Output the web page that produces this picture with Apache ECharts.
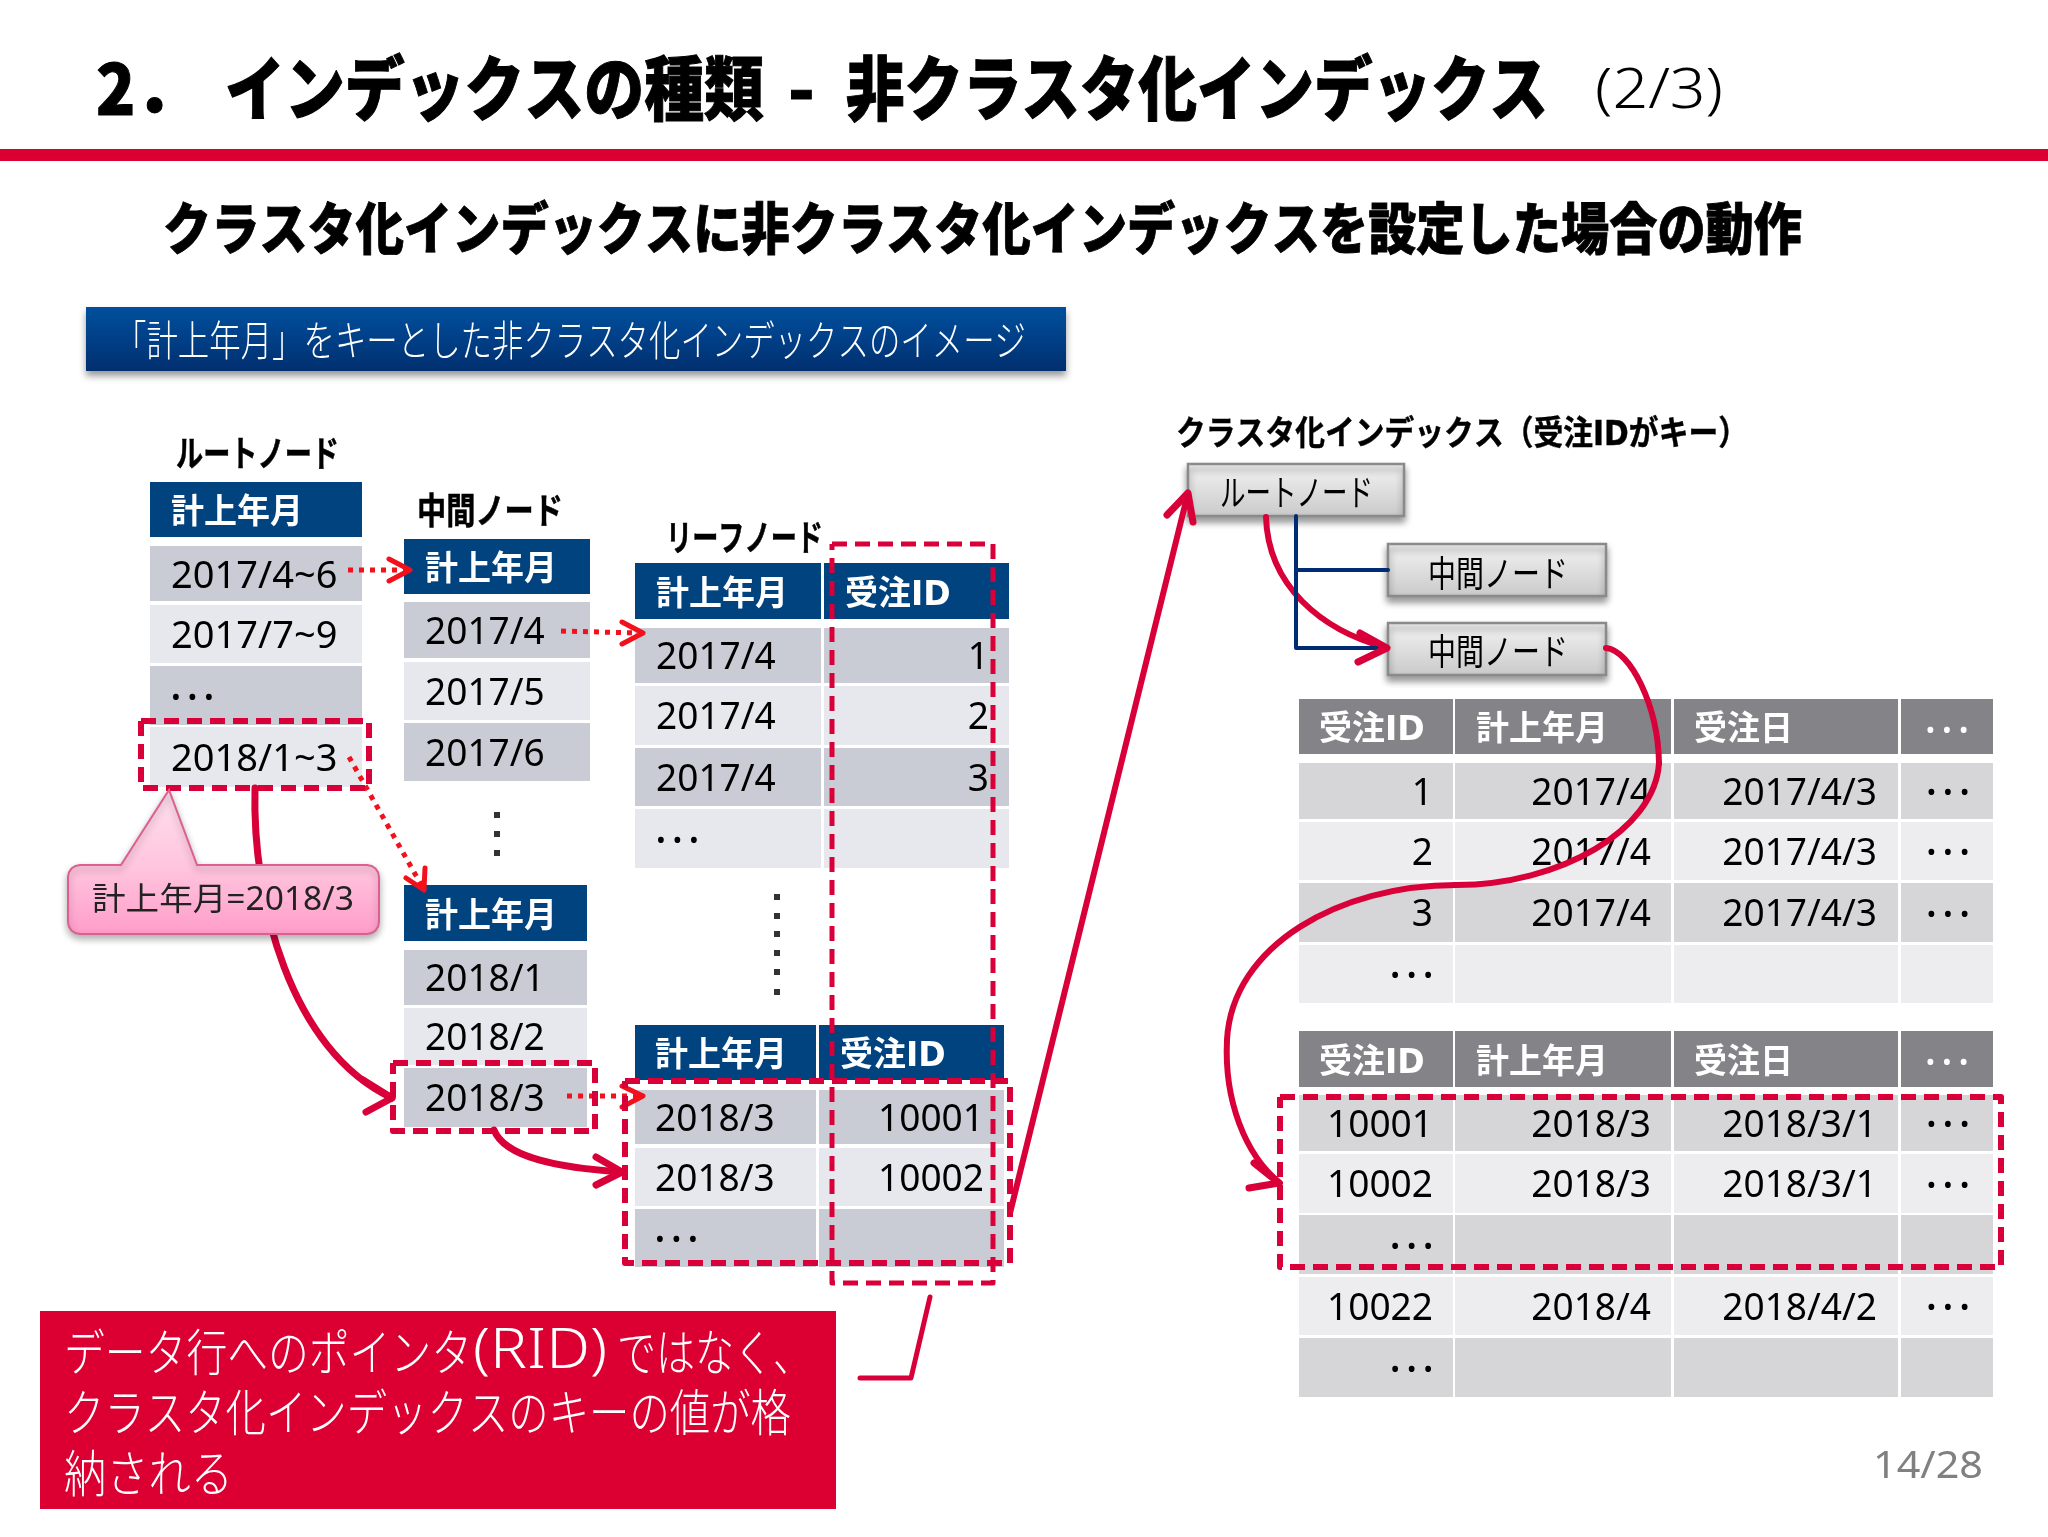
<!DOCTYPE html>
<html lang="ja">
<head>
<meta charset="utf-8">
<title>非クラスタ化インデックス</title>
<style>
    html, body { margin: 0; padding: 0; background: #fff; }
    #slide { width: 2048px; height: 1537px; }
</style>
<script src="https://cdn.jsdelivr.net/npm/echarts@6/dist/echarts.min.js"></script>
</head>
<body>
<div id="slide"></div>
<script>
const DOTS = '• • •'

// slide texts
const titleNo = '2．'
const titleLeft = 'インデックスの種類'
const titleDash = '-'
const titleRight = '非クラスタ化インデックス'
const titlePage = '(2/3)'
const subTitle = 'クラスタ化インデックスに非クラスタ化インデックスを設定した場合の動作'
const bannerText = '「計上年月」をキーとした非クラスタ化インデックスのイメージ'
const noteFirst = ['データ行へのポインタ', '(RID)', 'ではなく、']
const noteLines = ['クラスタ化インデックスのキーの値が格', '納される']
const balloonText = '計上年月=2018/3'
const pageNo = '14/28'

// table contents
const keyHead = ['計上年月']
const leafHead = ['計上年月', '受注ID']
const dataHead = ['受注ID', '計上年月', '受注日', DOTS]
const rootRows = [['2017/4~6'], ['2017/7~9'], [DOTS], ['2018/1~3']]
const midRows1 = [['2017/4'], ['2017/5'], ['2017/6']]
const midRows2 = [['2018/1'], ['2018/2'], ['2018/3']]
const leafRows1 = [['2017/4', '1'], ['2017/4', '2'], ['2017/4', '3'], [DOTS, '']]
const leafRows2 = [['2018/3', '10001'], ['2018/3', '10002'], [DOTS, '']]
const dataRows1 = [
    ['1', '2017/4', '2017/4/3', DOTS],
    ['2', '2017/4', '2017/4/3', DOTS],
    ['3', '2017/4', '2017/4/3', DOTS],
    [DOTS, '', '', '']
]
const dataRows2 = [
    ['10001', '2018/3', '2018/3/1', DOTS],
    ['10002', '2018/3', '2018/3/1', DOTS],
    [DOTS, '', '', ''],
    ['10022', '2018/4', '2018/4/2', DOTS],
    [DOTS, '', '', '']
]

// ---- layout, everything in slide units (the axes run 0-2048 / 0-1537) ----
const RED = '#d9003a'
const DOTTED = '#f2101c'
const NAVY = '#01437f'
const latin = '"Noto Sans","Noto Sans CJK JP",sans-serif'
const cjk = '"Noto Sans CJK JP",sans-serif'
const wide = '"DejaVu Sans","Noto Sans CJK JP",sans-serif'

const blueBody = ['#c9ccd5', '#e7e8ed']
const greyBody = ['#d6d6d8', '#ededef']
const dataCols = [[1299, 1453], [1455, 1671], [1674, 1898], [1901, 1993]]
const dataHeadX = [[1319, 'left'], [1476, 'left'], [1694, 'left'], [1947, 'center']]
const dataBodyX = [[1433, 'right'], [1651, 'right'], [1877, 'right'], [1948, 'center']]

const tables = [
    { head: keyHead, rows: rootRows, cols: [[150, 362]], headY: [482, 537], rowY: [[546, 601], [605, 663], [666, 725], [727, 787]], headX: [[171, 'left']], bodyX: [[171, 'left']], size: 39, body: blueBody, headFill: NAVY },
    { head: keyHead, rows: midRows1, cols: [[404, 590]], headY: [539, 594], rowY: [[602, 658], [662, 720], [723, 781]], headX: [[425, 'left']], bodyX: [[425, 'left']], size: 38, body: blueBody, headFill: NAVY },
    { head: keyHead, rows: midRows2, cols: [[404, 587]], headY: [885, 941], rowY: [[950, 1005], [1008, 1065], [1068, 1127]], headX: [[425, 'left']], bodyX: [[425, 'left']], size: 38, body: blueBody, headFill: NAVY },
    { head: leafHead, rows: leafRows1, cols: [[635, 821], [824, 1009]], headY: [563, 619], rowY: [[628, 683], [686, 745], [748, 806], [809, 868]], headX: [[656, 'left'], [845, 'left']], bodyX: [[656, 'left'], [989, 'right']], size: 38, body: blueBody, headFill: NAVY },
    { head: leafHead, rows: leafRows2, cols: [[635, 816], [819, 1004]], headY: [1025, 1080], rowY: [[1090, 1144], [1148, 1206], [1209, 1267]], headX: [[655, 'left'], [840, 'left']], bodyX: [[655, 'left'], [984, 'right']], size: 38, body: blueBody, headFill: NAVY },
    { head: dataHead, rows: dataRows1, cols: dataCols, headY: [699, 754], rowY: [[763, 819], [822, 880], [883, 942], [945, 1003]], headX: dataHeadX, bodyX: dataBodyX, size: 38, body: greyBody, headFill: '#848387' },
    { head: dataHead, rows: dataRows2, cols: dataCols, headY: [1031, 1087], rowY: [[1095, 1151], [1154, 1213], [1215, 1274], [1277, 1335], [1338, 1397]], headX: dataHeadX, bodyX: dataBodyX, size: 38, body: greyBody, headFill: '#848387' }
]

const nodeFill = { type: 'linear', x: 0, y: 0, x2: 0, y2: 1, colorStops: [{ offset: 0, color: '#f4f4f4' }, { offset: 1, color: '#c9c9c9' }] }
const bannerFill = { type: 'linear', x: 0, y: 0, x2: 0, y2: 1, colorStops: [{ offset: 0, color: '#004f9e' }, { offset: 1, color: '#012f6f' }] }
const boxes = [
    { r: [0, 149, 2048, 161], fill: '#dc0032' },
    { r: [86, 307, 1066, 371], fill: bannerFill, shadow: true },
    { r: [40, 1311, 836, 1509], fill: '#dc0032' },
    { r: [1188, 464, 1404, 516], fill: nodeFill, stroke: '#8a8a8a', shadow: true },
    { r: [1388, 544, 1606, 596], fill: nodeFill, stroke: '#8a8a8a', shadow: true },
    { r: [1388, 623, 1606, 675], fill: nodeFill, stroke: '#8a8a8a', shadow: true }
]

const labels = [
    { text: titleNo, x: 96, y: 88, size: 70, weight: 900, font: cjk, w: 104, bold: 1 },
    { text: titleLeft, x: 225, y: 88, size: 70, weight: 900, font: cjk, w: 539, bold: 1 },
    { text: titleDash, x: 788, y: 88, size: 70, weight: 900, font: cjk, bold: 1 },
    { text: titleRight, x: 846, y: 88, size: 70, weight: 900, font: cjk, w: 702, bold: 1 },
    { text: titlePage, x: 1595, y: 92, size: 56, weight: 300, font: latin, w: 128 },
    { text: subTitle, x: 163, y: 228, size: 56, weight: 900, font: cjk, w: 1639, bold: 0.8 },
    { text: bannerText, x: 115, y: 340, size: 42, weight: 300, font: cjk, w: 911, fill: '#fff' },
    { text: 'ルートノード', x: 176, y: 453, size: 36, weight: 700, font: cjk, w: 163, bold: 0.5 },
    { text: '中間ノード', x: 417, y: 510, size: 36, weight: 700, font: cjk, w: 146, bold: 0.5 },
    { text: 'リーフノード', x: 666, y: 537, size: 36, weight: 700, font: cjk, w: 157, bold: 0.5 },
    { text: 'クラスタ化インデックス（受注IDがキー）', x: 1176, y: 436, size: 34, weight: 700, font: wide, w: 572, bold: 0.4 },
    { text: 'ルートノード', x: 1220, y: 492, size: 36, weight: 400, font: cjk, w: 153 },
    { text: '中間ノード', x: 1428, y: 573, size: 36, weight: 400, font: cjk, w: 140 },
    { text: '中間ノード', x: 1428, y: 651, size: 36, weight: 400, font: cjk, w: 140 },
    { text: balloonText, x: 92, y: 901, size: 32, weight: 400, font: latin, w: 262, fill: '#222' },
    { text: noteFirst[0], x: 64, y: 1352, size: 50, weight: 300, font: cjk, w: 408, fill: '#fff' },
    { text: noteFirst[1], x: 473, y: 1352, size: 56, weight: 300, font: latin, w: 134, fill: '#fff' },
    { text: noteFirst[2], x: 617, y: 1352, size: 50, weight: 300, font: cjk, w: 195, fill: '#fff' },
    { text: noteLines[0], x: 64, y: 1412, size: 50, weight: 300, font: cjk, w: 727, fill: '#fff' },
    { text: noteLines[1], x: 64, y: 1473, size: 50, weight: 300, font: cjk, w: 169, fill: '#fff' },
    { text: pageNo, x: 1873, y: 1467, size: 39, weight: 400, font: latin, w: 110, fill: '#808080' }
]

// smooth red routes, one cubic each: start, two handles, end
const curves = [
    { c: [[255, 788], [252, 900], [290, 1050], [392, 1098]], width: 7 },
    { c: [[494, 1130], [505, 1158], [560, 1168], [622, 1172]], width: 7 },
    { c: [[1266, 517], [1268, 585], [1320, 630], [1387, 648]], width: 6 },
    { c: [[1606, 648], [1630, 650], [1658, 705], [1659, 763]], width: 6 },
    { c: [[1659, 763], [1655, 830], [1560, 885], [1456, 885]], width: 6 },
    { c: [[1456, 885], [1340, 885], [1232, 945], [1227, 1040]], width: 6 },
    { c: [[1227, 1040], [1224, 1100], [1245, 1155], [1280, 1183]], width: 6 }
]

const connectors = [
    // navy tree lines of the clustered index
    { pts: [[1296, 516], [1296, 648], [1388, 648]], color: '#002c73', width: 4 },
    { pts: [[1296, 570], [1388, 570]], color: '#002c73', width: 4 },
    // arrow heads and straight red lines
    { pts: [[363, 1080], [392, 1098], [366, 1112]], color: RED, width: 7 },
    { pts: [[596, 1157], [622, 1172], [596, 1185]], color: RED, width: 7 },
    { pts: [[1010, 1213], [1187, 497]], color: RED, width: 6 },
    { pts: [[1167, 515], [1188, 493], [1193, 522]], color: RED, width: 7 },
    { pts: [[1360, 633], [1387, 648], [1358, 662]], color: RED, width: 7 },
    { pts: [[1254, 1163], [1279, 1183], [1249, 1188]], color: RED, width: 7 },
    { pts: [[930, 1297], [911, 1378], [860, 1378]], color: RED, width: 5 },
    // dotted pointers
    { pts: [[348, 570], [406, 570]], color: DOTTED, width: 5, dash: [5, 6] },
    { pts: [[389, 559], [410, 570], [389, 581]], color: DOTTED, width: 5 },
    { pts: [[561, 631], [638, 633]], color: DOTTED, width: 5, dash: [5, 6] },
    { pts: [[622, 622], [643, 633], [622, 644]], color: DOTTED, width: 5 },
    { pts: [[349, 757], [423, 888]], color: DOTTED, width: 5, dash: [5, 6] },
    { pts: [[406, 878], [424, 890], [425, 868]], color: DOTTED, width: 5 },
    { pts: [[567, 1096], [638, 1096]], color: DOTTED, width: 5, dash: [5, 6] },
    { pts: [[622, 1086], [643, 1096], [622, 1107]], color: DOTTED, width: 5 },
    // dashed selections
    { pts: rectPts(141, 721, 369, 788), color: RED, width: 6, dash: [15, 8] },
    { pts: rectPts(393, 1063, 595, 1131), color: RED, width: 6, dash: [15, 8] },
    { pts: rectPts(625, 1081, 1010, 1263), color: RED, width: 6, dash: [15, 8] },
    { pts: rectPts(832, 544, 993, 1283), color: RED, width: 5, dash: [15, 8] },
    { pts: rectPts(1280, 1097, 2001, 1267), color: RED, width: 6, dash: [15, 8] }
]

const blockDots = [[497, 815], [497, 834], [497, 853], [777, 897], [777, 916], [777, 934], [777, 953], [777, 972], [777, 992]]

// balloon outline: rounded body plus the pointer towards the 2018/1~3 row
const balloonBody = [68, 865, 379, 934]
const balloonTail = [[121, 865], [169, 790], [197, 865]]

function rectPts(x0, y0, x1, y1) {
    return [[x0, y0], [x1, y0], [x1, y1], [x0, y1], [x0, y0]]
}

function balloonPts() {
    const [x0, y0, x1, y1] = balloonBody
    const r = 12
    const arc = (cx, cy, from) => [0, 1, 2, 3, 4].map(i => {
        const a = from + i * Math.PI / 8
        return [cx + r * Math.cos(a), cy + r * Math.sin(a)]
    })
    return [
        ...arc(x0 + r, y0 + r, Math.PI),
        ...balloonTail,
        ...arc(x1 - r, y0 + r, -Math.PI / 2),
        ...arc(x1 - r, y1 - r, 0),
        ...arc(x0 + r, y1 - r, Math.PI / 2)
    ]
}

// flatten the tables into cells
const cells = []
tables.forEach(t => {
    t.head.forEach((h, c) => {
        const dots = h === DOTS
        cells.push({ r: [t.cols[c][0], t.headY[0], t.cols[c][1], t.headY[1]], fill: t.headFill, text: h, at: t.headX[c], size: dots ? 26 : 34, weight: dots ? 400 : 700, font: dots ? latin : wide, color: '#fff', dy: 5, sx: dots ? 1 : 0.97 })
    })
    t.rows.forEach((row, i) => {
        row.forEach((v, c) => {
            const dots = v === DOTS
            cells.push({ r: [t.cols[c][0], t.rowY[i][0], t.cols[c][1], t.rowY[i][1]], fill: t.body[i % 2], text: v, at: t.bodyX[c], size: dots ? 26 : t.size, weight: 400, font: latin, color: '#000', dy: 3, sx: dots ? 1 : 0.975 })
        })
    })
})

const ctx = document.createElement('canvas').getContext('2d')
function textEl(api, o) {
    const font = `${o.weight} ${o.size}px ${o.font}`
    ctx.font = font
    const p = api.coord([o.x, o.y])
    const style = { text: o.text, fill: o.fill || '#000', font, textAlign: o.align || 'left', textVerticalAlign: 'middle' }
    if (o.bold) {
        style.stroke = o.fill || '#000'
        style.lineWidth = o.bold
    }
    return {
        type: 'text',
        x: p[0],
        y: p[1],
        scaleX: o.sx || (o.w ? o.w / ctx.measureText(o.text).width : 1),
        style
    }
}

function rectEl(api, b) {
    const p0 = api.coord([b.r[0], b.r[1]])
    const p1 = api.coord([b.r[2], b.r[3]])
    const style = { fill: b.fill }
    if (b.stroke) {
        style.stroke = b.stroke
        style.lineWidth = 2.5
    }
    if (b.shadow) {
        style.shadowBlur = 7
        style.shadowOffsetY = 5
        style.shadowColor = 'rgba(0,0,0,0.4)'
    }
    return { type: 'rect', shape: { x: p0[0], y: p0[1], width: p1[0] - p0[0], height: p1[1] - p0[1] }, style }
}

const series = [
    {
        type: 'custom',
        name: 'boxes',
        z: 2,
        silent: true,
        data: boxes.map(b => [b.r[0], b.r[1]]),
        renderItem: (params, api) => rectEl(api, boxes[params.dataIndex])
    },
    {
        type: 'custom',
        name: 'cells',
        z: 2,
        silent: true,
        data: cells.map(c => [c.r[0], c.r[1]]),
        renderItem: (params, api) => {
            const c = cells[params.dataIndex]
            const children = [rectEl(api, c)]
            if (c.text) {
                children.push(textEl(api, { text: c.text, x: c.at[0], y: (c.r[1] + c.r[3]) / 2 + c.dy, size: c.size, weight: c.weight, font: c.font, fill: c.color, align: c.at[1], sx: c.sx }))
            }
            return { type: 'group', children }
        }
    },
    {
        type: 'scatter',
        name: 'dots',
        z: 2,
        silent: true,
        symbol: 'rect',
        symbolSize: 6,
        itemStyle: { color: '#000' },
        data: blockDots
    },
    ...connectors.map(c => ({
        type: 'line',
        z: 3,
        silent: true,
        clip: false,
        symbol: 'none',
        lineStyle: { color: c.color, width: c.width, type: c.dash || 'solid', cap: c.dash ? 'butt' : 'round', join: 'round' },
        data: c.pts
    })),
    {
        type: 'custom',
        name: 'curves',
        z: 3,
        silent: true,
        data: curves.map(k => k.c[0]),
        renderItem: (params, api) => {
            const k = curves[params.dataIndex]
            const [a, b, c, d] = k.c.map(p => api.coord(p))
            return {
                type: 'bezierCurve',
                shape: { x1: a[0], y1: a[1], cpx1: b[0], cpy1: b[1], cpx2: c[0], cpy2: c[1], x2: d[0], y2: d[1] },
                style: { fill: null, stroke: RED, lineWidth: k.width, lineCap: 'round' }
            }
        }
    },
    {
        type: 'custom',
        name: 'balloon',
        z: 4,
        silent: true,
        data: [balloonBody.slice(0, 2)],
        renderItem: (params, api) => ({
            type: 'polygon',
            shape: { points: balloonPts().map(p => api.coord(p)) },
            style: {
                fill: { type: 'linear', x: 0, y: 0, x2: 0, y2: 1, colorStops: [{ offset: 0, color: '#ffe0ee' }, { offset: 0.55, color: '#ffc4de' }, { offset: 1, color: '#ff9cc9' }] },
                stroke: '#dc5f8f',
                lineWidth: 2,
                shadowBlur: 7,
                shadowOffsetY: 4,
                shadowColor: 'rgba(0,0,0,0.3)'
            }
        })
    },
    {
        type: 'custom',
        name: 'labels',
        z: 5,
        silent: true,
        data: labels.map(l => [l.x, l.y]),
        renderItem: (params, api) => textEl(api, labels[params.dataIndex])
    }
]

echarts.init(document.getElementById('slide')).setOption({
    animation: false,
    backgroundColor: '#fff',
    grid: { left: 0, right: 0, top: 0, bottom: 0 },
    xAxis: { type: 'value', min: 0, max: 2048, show: false },
    yAxis: { type: 'value', min: 0, max: 1537, inverse: true, show: false },
    series
})
</script>
</body>
</html>
